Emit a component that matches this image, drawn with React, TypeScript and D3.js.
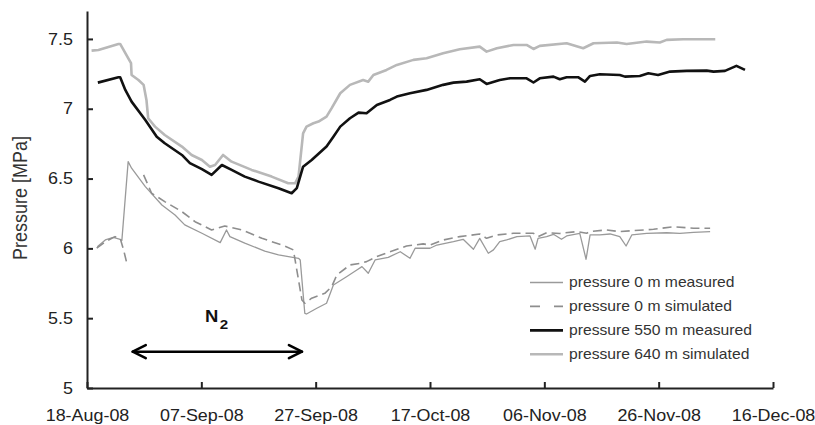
import React, { useEffect, useRef } from "react";
import * as d3 from "d3";

// days after 18-Aug-08, pressure [MPa]
const startDate = new Date(2008, 7, 18);
const tickDays = [0, 20, 40, 60, 80, 100, 120];
const tickLabels = ["18-Aug-08", "07-Sep-08", "27-Sep-08", "17-Oct-08", "06-Nov-08", "26-Nov-08", "16-Dec-08"];
const yTicks = [5, 5.5, 6, 6.5, 7, 7.5];

const p0Measured: [number, number][] = [
  [1.8, 6.012], [3.2, 6.06], [4.6, 6.078], [5.8, 6.065], [6.1, 6.057], [7.2, 6.621], [7.8, 6.574],
  [10.2, 6.442], [13.1, 6.311], [15.4, 6.239], [17.1, 6.168], [20.1, 6.108], [23.3, 6.041],
  [24.4, 6.132], [25.0, 6.084], [27.6, 6.037], [31.1, 5.981], [33.5, 5.953], [37.0, 5.929],
  [37.3, 5.917], [38.1, 5.535], [38.4, 5.53], [40.2, 5.571], [41.9, 5.607], [43.1, 5.738],
  [45.4, 5.797], [47.2, 5.845], [48.1, 5.869], [49.2, 5.822], [50.4, 5.917], [52.7, 5.936],
  [54.8, 5.976], [56.5, 5.929], [57.4, 6.001], [60.0, 6.001], [61.2, 6.024], [64.1, 6.048],
  [65.8, 6.065], [67.6, 5.994], [68.7, 6.072], [70.2, 5.965], [71.1, 5.989], [72.2, 6.048],
  [73.4, 6.06], [75.2, 6.084], [77.5, 6.089], [78.4, 5.994], [78.9, 6.072], [80.4, 6.084],
  [81.6, 6.101], [83.0, 6.065], [83.9, 6.089], [86.2, 6.108], [87.3, 5.922], [88.0, 6.096],
  [89.7, 6.096], [91.5, 6.103], [93.2, 6.084], [94.3, 6.017], [95.3, 6.096], [97.9, 6.108],
  [101.4, 6.112], [103.7, 6.108], [106.1, 6.115], [109.0, 6.12]
];

// null = no simulated value
const p0Simulated: [number, number | null][] = [
  [1.7, 6.001], [3.2, 6.048], [4.9, 6.084], [5.8, 6.072], [6.4, 5.989], [6.9, 5.905], [8.4, null],
  [9.9, 6.526], [11.3, 6.395], [13.6, 6.335], [16.6, 6.263], [18.9, 6.191], [21.8, 6.132],
  [24.1, 6.16], [27.1, 6.132], [30.6, 6.072], [34.6, 6.017], [36.1, 5.989], [36.4, 5.917],
  [37.6, 5.63], [38.1, 5.607], [39.3, 5.643], [41.6, 5.678], [42.8, 5.726], [43.7, 5.809],
  [46.0, 5.881], [47.8, 5.893], [48.9, 5.905], [50.7, 5.941], [53.0, 5.976], [55.9, 6.017],
  [58.8, 6.032], [60.0, 6.024], [62.3, 6.06], [65.2, 6.084], [68.7, 6.103], [69.9, 6.072],
  [71.7, 6.096], [74.6, 6.108], [78.1, 6.108], [78.9, 6.084], [80.4, 6.112], [82.7, 6.107],
  [85.7, 6.12], [87.4, 6.108], [88.0, 6.12], [90.9, 6.132], [93.2, 6.12], [95.6, 6.127],
  [99.1, 6.137], [102.6, 6.155], [106.1, 6.144], [109.0, 6.144]
];

const p550Measured: [number, number][] = [
  [1.9, 7.187], [5.5, 7.226], [5.8, 7.226], [6.7, 7.135], [7.8, 7.051], [10.2, 6.92], [12.2, 6.8],
  [13.6, 6.753], [16.6, 6.669], [18.0, 6.61], [20.1, 6.567], [21.8, 6.526], [23.6, 6.597],
  [25.3, 6.562], [27.6, 6.514], [30.0, 6.478], [33.5, 6.431], [35.8, 6.395], [36.7, 6.431],
  [37.8, 6.585], [39.3, 6.633], [41.9, 6.729], [43.1, 6.8], [44.3, 6.872], [46.0, 6.932],
  [47.5, 6.972], [48.9, 6.968], [50.7, 7.027], [53.0, 7.063], [54.2, 7.087], [56.5, 7.111],
  [59.4, 7.135], [62.3, 7.171], [64.1, 7.187], [66.4, 7.194], [68.7, 7.211], [69.9, 7.178],
  [72.2, 7.206], [74.0, 7.218], [76.9, 7.218], [78.1, 7.188], [79.2, 7.218], [81.6, 7.23],
  [82.7, 7.211], [83.9, 7.226], [85.9, 7.226], [87.1, 7.194], [88.0, 7.235], [89.7, 7.247],
  [93.2, 7.242], [94.1, 7.23], [96.7, 7.235], [98.2, 7.254], [99.9, 7.242], [102.0, 7.266],
  [104.9, 7.271], [108.4, 7.273], [109.6, 7.266], [111.6, 7.271], [113.6, 7.307], [115.1, 7.278]
];

const p640Simulated: [number, number][] = [
  [0.8, 7.416], [2.0, 7.421], [5.5, 7.464], [5.8, 7.464], [7.2, 7.362], [7.7, 7.326], [7.8, 7.242],
  [9.0, 7.206], [9.9, 7.171], [10.4, 7.063], [10.7, 6.932], [11.9, 6.872], [13.6, 6.812],
  [16.6, 6.729], [18.3, 6.669], [20.1, 6.633], [21.5, 6.585], [22.4, 6.597], [23.8, 6.669],
  [25.3, 6.621], [28.8, 6.562], [32.3, 6.514], [35.2, 6.466], [36.4, 6.466], [37.0, 6.514],
  [37.8, 6.824], [38.4, 6.872], [39.6, 6.896], [40.5, 6.908], [41.9, 6.943], [42.8, 7.004],
  [44.3, 7.111], [46.0, 7.171], [48.3, 7.206], [49.2, 7.194], [50.1, 7.242], [52.4, 7.278],
  [54.2, 7.314], [57.1, 7.35], [59.4, 7.362], [62.3, 7.398], [65.2, 7.426], [68.7, 7.445],
  [69.9, 7.409], [71.7, 7.433], [74.6, 7.457], [76.9, 7.457], [78.1, 7.428], [79.2, 7.45],
  [83.9, 7.469], [86.8, 7.433], [88.6, 7.469], [92.7, 7.474], [94.4, 7.464], [97.9, 7.481],
  [100.2, 7.474], [101.4, 7.493], [104.3, 7.498], [109.9, 7.498]
];

// N2 injection period (days) and the level the arrow is drawn at
const n2Period = [8.0, 37.6];
const n2Level = 5.26;

const legendNames = [
  "pressure 0 m measured",
  "pressure 0 m simulated",
  "pressure 550 m measured",
  "pressure 640 m simulated"
];

const FONT = "'Liberation Sans', Arial, Helvetica, sans-serif";
const STRETCH = 1.12; // the text in the original is a bit wide

function toDate(d: number) {
  return new Date(startDate.getTime() + d * 86400000);
}

export default function App() {
  const ref = useRef<SVGSVGElement>(null);

  useEffect(() => {
    const svg = d3.select(ref.current);
    svg.selectAll("*").remove();

    const x = d3
      .scaleTime()
      .domain([toDate(0), toDate(120)])
      .range([87, 773]);
    const y = d3.scaleLinear().domain([5, 7.7]).range([388, 11]);

    const line = d3
      .line<[number, number | null]>()
      .defined((d) => d[1] != null)
      .x((d) => x(toDate(d[0])))
      .y((d) => y(d[1] as number));

    // series
    const styles = [
      { data: p0Measured, color: "#9a9a9a", width: 1.3, dash: null },
      { data: p0Simulated, color: "#8e8e8e", width: 1.6, dash: "9,5" },
      { data: p640Simulated, color: "#b8b8b8", width: 2.6, dash: null },
      { data: p550Measured, color: "#111", width: 2.6, dash: null }
    ];
    styles.forEach((s) => {
      svg
        .append("path")
        .datum(s.data as [number, number | null][])
        .attr("d", line)
        .attr("fill", "none")
        .attr("stroke", s.color)
        .attr("stroke-width", s.width)
        .attr("stroke-linejoin", "round")
        .attr("stroke-dasharray", s.dash);
    });

    // axes
    const xAxis = d3
      .axisBottom(x)
      .tickValues(tickDays.map(toDate))
      .tickFormat((d, i) => tickLabels[i])
      .tickSizeInner(-6)
      .tickSizeOuter(0)
      .tickPadding(22);
    const gx = svg.append("g").attr("transform", "translate(0,388)").call(xAxis);

    const yAxis = d3
      .axisLeft(y)
      .tickValues(yTicks)
      .tickFormat((d) => String(d))
      .tickSizeInner(-6)
      .tickSizeOuter(0)
      .tickPadding(12.5);
    const gy = svg.append("g").attr("transform", "translate(87,0)").call(yAxis);

    [gx, gy].forEach((g) => {
      g.attr("font-family", FONT).attr("font-size", 16);
      g.select(".domain").attr("stroke", "#222").attr("stroke-width", 2);
      g.selectAll(".tick line").attr("stroke", "#222").attr("stroke-width", 2);
      g.selectAll(".tick text").attr("fill", "#222").attr("transform", `scale(${STRETCH},1)`);
    });

    // y title
    svg
      .append("text")
      .attr("transform", `translate(20,198) scale(${STRETCH},1) rotate(-90)`)
      .attr("text-anchor", "middle")
      .attr("dy", "0.35em")
      .attr("font-family", FONT)
      .attr("font-size", 18)
      .attr("fill", "#333")
      .text("Pressure [MPa]");

    // N2 arrow
    const ax0 = x(toDate(n2Period[0]));
    const ax1 = x(toDate(n2Period[1]));
    const ay = y(n2Level);
    const arrow = svg
      .append("g")
      .attr("fill", "none")
      .attr("stroke", "#000")
      .attr("stroke-width", 2.6)
      .attr("stroke-linecap", "round")
      .attr("stroke-linejoin", "round");
    arrow.append("line").attr("x1", ax0).attr("x2", ax1).attr("y1", ay).attr("y2", ay);
    arrow
      .append("path")
      .attr("d", `M${ax0 + 13},${ay - 6.5}L${ax0},${ay}L${ax0 + 13},${ay + 6.5}`);
    arrow
      .append("path")
      .attr("d", `M${ax1 - 13},${ay - 6.5}L${ax1},${ay}L${ax1 - 13},${ay + 6.5}`);

    const mid = (ax0 + ax1) / 2;
    svg
      .append("text")
      .attr("transform", `translate(${mid + 1},322) scale(${STRETCH},1)`)
      .attr("text-anchor", "end")
      .attr("font-family", FONT)
      .attr("font-weight", "bold")
      .attr("font-size", 16.5)
      .attr("fill", "#111")
      .text("N");
    svg
      .append("text")
      .attr("transform", `translate(${mid + 2.5},329) scale(${STRETCH},1)`)
      .attr("font-family", FONT)
      .attr("font-weight", "bold")
      .attr("font-size", 13.5)
      .attr("fill", "#111")
      .text("2");

    // legend
    const legendStyles = [
      { color: "#9a9a9a", width: 1.6, dash: null },
      { color: "#8e8e8e", width: 1.6, dash: "10,14" },
      { color: "#111", width: 2.8, dash: null },
      { color: "#b8b8b8", width: 2.4, dash: null }
    ];
    const lg = svg.append("g");
    legendNames.forEach((name, i) => {
      const ly = 282.5 + i * 23.9;
      lg.append("line")
        .attr("x1", 530)
        .attr("x2", 563)
        .attr("y1", ly)
        .attr("y2", ly)
        .attr("stroke", legendStyles[i].color)
        .attr("stroke-width", legendStyles[i].width)
        .attr("stroke-dasharray", legendStyles[i].dash);
      lg.append("text")
        .attr("transform", `translate(569,${ly}) scale(${STRETCH},1)`)
        .attr("dy", "0.33em")
        .attr("font-family", FONT)
        .attr("font-size", 14)
        .attr("fill", "#333")
        .text(name);
    });
  }, []);

  return (
    <svg
      ref={ref}
      width={815}
      height={425}
      style={{ position: "absolute", left: 0, top: 0, background: "#fff" }}
    />
  );
}
